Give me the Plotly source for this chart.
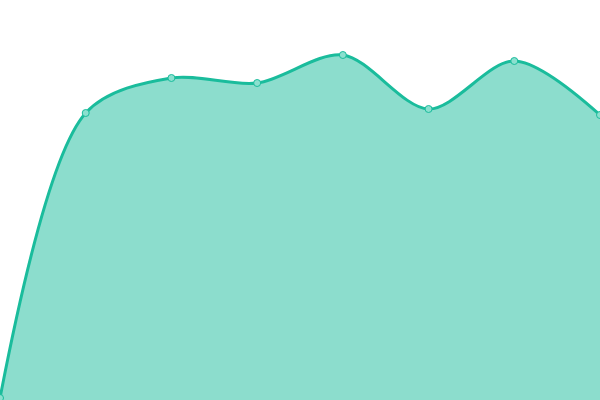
import plotly.graph_objects as go

categories = [0, 1, 2, 3, 4, 5, 6, 7]
values = [2, 287, 322, 317, 345, 291, 339, 285]

fig = go.Figure()
fig.add_trace(go.Scatter(
    x=categories, y=values,
    mode="lines+markers",
    fill="tozeroy",
    fillcolor="rgba(26,188,156,0.5)",
    line=dict(color="#1abc9c", width=3, shape="spline", smoothing=0.9),
    marker=dict(size=7, color="#8be0cf", line=dict(color="#1abc9c", width=1)),
    cliponaxis=False,
    hoverinfo="skip",
))
fig.update_layout(
    width=600, height=400,
    margin=dict(l=0, r=0, t=0, b=0),
    paper_bgcolor="white", plot_bgcolor="white",
    showlegend=False,
    xaxis=dict(range=[0, 7], visible=False, showgrid=False, zeroline=False),
    yaxis=dict(range=[0, 400], visible=False, showgrid=False, zeroline=False),
)
fig.write_html(
    "out.html",
    config={"displayModeBar": False},
    post_script="document.body.style.margin='0';document.body.style.overflow='hidden';",
)
